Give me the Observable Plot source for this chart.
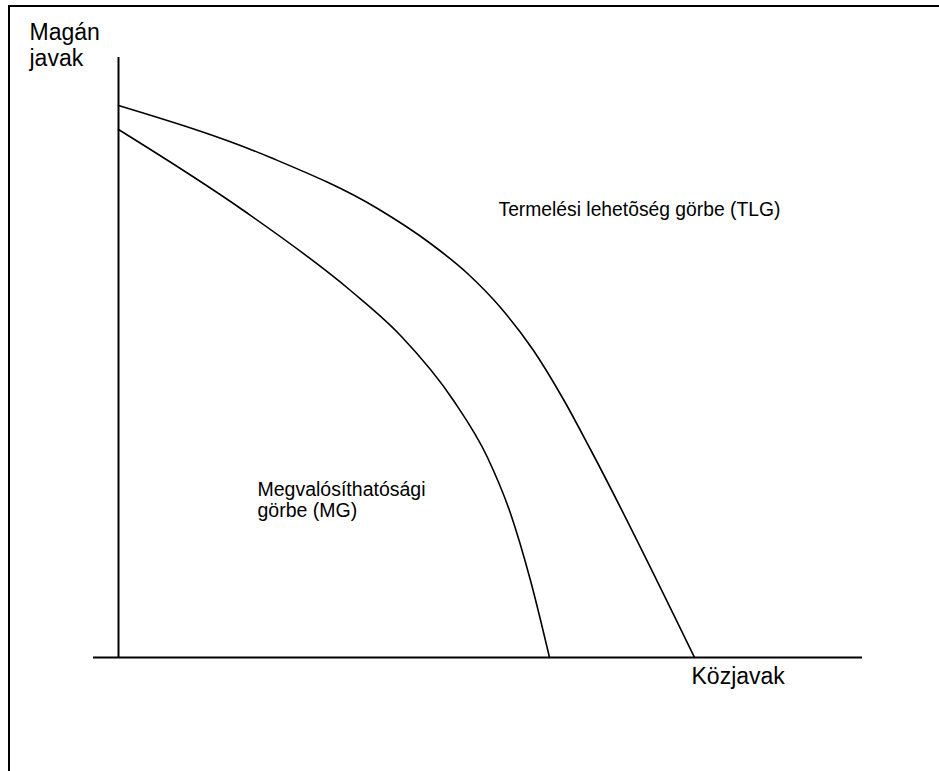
<!DOCTYPE html>
<html>
<head>
<meta charset="utf-8">
<script src="https://cdn.jsdelivr.net/npm/d3@7"></script>
<script src="https://cdn.jsdelivr.net/npm/@observablehq/plot@0.6"></script>
<style>
  html, body { margin: 0; padding: 0; background: #fff; }
  #wrap { position: relative; width: 939px; height: 771px; overflow: hidden; }
  #frame { position: absolute; left: 8px; top: 5px; width: 1000px; height: 900px;
           border-left: 2px solid #000; border-top: 2px solid #000; }
  #chart { position: absolute; left: 0; top: 0; }
</style>
</head>
<body>
<div id="wrap"><div id="frame"></div><div id="chart"></div></div>
<script>
// Termelési lehetőség görbe (TLG): közjavak (x) vs magánjavak (y)
const tlgX = [0, 152, 259, 312, 349, 382, 415, 445, 472, 576];
const tlgY = [552, 500, 449, 414, 384, 350, 307, 258, 208, 0];
// Megvalósíthatósági görbe (MG)
const mgX = [0, 125, 232, 282, 335, 369, 392, 412, 431];
const mgY = [528, 447, 367, 322, 257, 200, 144, 77, 0];

const axisLabels = ["Magán\njavak", "Közjavak"];
const curveLabels = ["Termelési lehetõség görbe (TLG)", "Megvalósíthatósági\ngörbe (MG)"];

const tlg = tlgX.map((x, i) => ({x, y: tlgY[i]}));
const mg = mgX.map((x, i) => ({x, y: mgY[i]}));

const chart = Plot.plot({
  width: 939,
  height: 771,
  marginLeft: 93,
  marginRight: 77,
  marginTop: 57,
  marginBottom: 114,
  x: {domain: [-25, 744], axis: null},
  y: {domain: [0, 600], axis: null},
  style: {fontFamily: "'Liberation Sans', Arial, sans-serif", color: "#000", background: "transparent"},
  marks: [
    Plot.ruleX([0], {y1: 0, y2: 600, stroke: "#000", strokeWidth: 2}),
    Plot.ruleY([0], {x1: -25, x2: 744, stroke: "#000", strokeWidth: 2}),
    Plot.line(tlg, {x: "x", y: "y", curve: "monotone-x", stroke: "#000", strokeWidth: 1.6}),
    Plot.line(mg, {x: "x", y: "y", curve: "monotone-x", stroke: "#000", strokeWidth: 1.6}),
    Plot.text([axisLabels[0]], {x: -89, y: 592, text: d => d, textAnchor: "start", lineAnchor: "bottom", lineHeight: 1.09, fontSize: 23, fill: "#000"}),
    Plot.text([axisLabels[1]], {x: 573, y: -26, text: d => d, textAnchor: "start", lineAnchor: "bottom", fontSize: 23, fill: "#000"}),
    Plot.text([curveLabels[0]], {x: 380, y: 442, text: d => d, textAnchor: "start", lineAnchor: "bottom", fontSize: 19.3, fill: "#000"}),
    Plot.text([curveLabels[1]], {x: 139, y: 141, text: d => d, textAnchor: "start", lineAnchor: "bottom", lineHeight: 1.05, fontSize: 19.5, fill: "#000"})
  ]
});
document.getElementById("chart").appendChild(chart);
</script>
</body>
</html>
